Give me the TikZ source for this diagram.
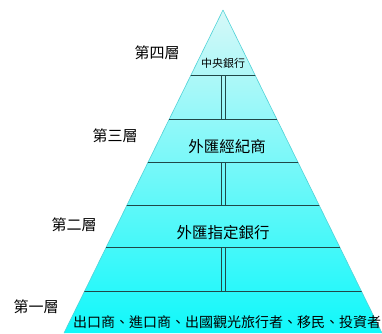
\documentclass[tikz,border=0pt]{standalone}
\usepackage{fontspec}
\setmainfont{Noto Sans CJK TC}
\definecolor{linedark}{RGB}{32,72,72}
\definecolor{edgecyan}{RGB}{80,210,215}
\definecolor{topcyan}{RGB}{214,248,248}
\definecolor{botcyan}{RGB}{16,248,250}
\begin{document}
\begin{tikzpicture}[x=1pt,y=-1pt,
  lbl/.style={font=\fontsize{15}{15}\selectfont, text=black, inner sep=0pt},
  tier/.style={draw=linedark, line width=0.9pt},
  dbl/.style={draw=linedark, line width=0.8pt},
  edge/.style={draw=edgecyan, line width=0.6pt}]
\useasboundingbox (0,0) rectangle (382,333);
\fill[white] (0,0) rectangle (382,333);
% pyramid
\coordinate (apex) at (223,10);
\coordinate (bl) at (64,333);
\coordinate (br) at (382,333);
\shade[top color=topcyan, bottom color=botcyan]
  (apex) -- (bl) -- (br) -- cycle;
\draw[edge] (apex) -- (bl);
\draw[edge] (apex) -- (br);
\begin{scope}
\clip (apex) -- (bl) -- (br) -- cycle;
\foreach \yy in {75,119,162,205,247,291}{
  \draw[tier] (0,\yy) -- (382,\yy);
}
\foreach \ya/\yb in {75/119,162/205,247/291}{
  \draw[dbl] (221,\ya) -- (221,\yb);
  \draw[dbl] (225,\ya) -- (225,\yb);
}
\end{scope}
% labels
\node[lbl] (l4) at (157,53) {第四層};
\node[lbl] (l3) at (115,136) {第三層};
\node[lbl] (l2) at (74,225) {第二層};
\node[lbl] (l1) at (36,307) {第一層};
\node[lbl, font=\fontsize{11}{11}\selectfont] (t4) at (223,63) {中央銀行};
\node[lbl, font=\fontsize{15.5}{15.5}\selectfont] (t3) at (227,147) {外匯經紀商};
\node[lbl, font=\fontsize{15.5}{15.5}\selectfont] (t2) at (223,233) {外匯指定銀行};
\node[lbl, font=\fontsize{14}{14}\selectfont] (t1) at (227,322) {出口商、進口商、出國觀光旅行者、移民、投資者};
\end{tikzpicture}
\end{document}
